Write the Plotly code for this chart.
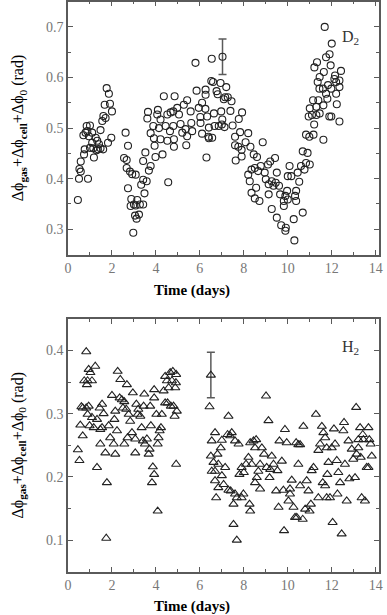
import plotly.graph_objects as go
from plotly.subplots import make_subplots

# ================== Data ==================
# D2 panel : time (days) / phase (rad)
d2_time = [0.45, 0.50, 0.58, 0.52, 0.58, 0.91, 0.73, 0.76, 0.70, 0.80, 0.88, 1.00, 0.85, 0.95, 1.10,
           1.15, 1.18, 1.26, 1.33, 1.41, 1.36, 1.48, 1.56, 1.61, 1.67, 1.76, 1.86, 1.91, 2.00, 1.97,
           1.82, 1.71, 1.10, 1.00, 1.48, 1.30, 1.60,
           2.62, 2.73, 2.55, 2.67, 2.67, 2.82, 2.92, 3.08, 2.73, 2.88, 2.85, 3.00, 3.15, 3.08, 3.27,
           3.42, 3.48, 3.05, 3.23, 3.12, 2.97, 3.42, 3.33, 3.58, 3.42, 3.52, 3.68, 3.76, 3.64, 3.61,
           3.76, 3.88, 3.91, 3.94, 3.98, 4.09, 4.06, 4.21, 4.14, 4.21, 4.30, 4.36, 4.44, 4.52, 4.52,
           4.56, 4.67, 4.64, 4.79, 4.79, 4.82, 4.85, 4.82, 4.97, 5.05, 5.12, 5.20, 5.27, 5.42, 5.35,
           5.42, 5.38, 5.58, 5.61, 5.65,
           5.80, 5.85, 5.95, 6.03, 6.10, 6.10, 6.26, 6.26, 6.30, 6.33, 6.41, 6.41, 6.52, 6.60, 6.56,
           6.64, 6.67, 6.76, 6.86, 6.94, 6.97, 7.02, 7.09, 7.12, 6.54, 6.81, 6.25, 6.02, 6.39, 7.00,
           7.20, 7.15, 7.27, 7.44, 7.39, 7.92, 7.77, 7.49,
           7.60, 7.83, 8.20, 7.60, 7.75, 7.90, 7.63, 8.08, 8.30, 7.90, 8.45, 8.60, 8.86, 8.20, 8.27,
           8.35, 8.50, 8.65, 8.77, 8.35, 8.50, 8.71, 8.56, 8.95, 9.10, 9.20, 9.42, 9.00, 9.13, 9.27,
           9.35, 9.45, 9.60, 9.50, 9.13, 9.27, 9.50, 9.70, 9.91, 9.89, 10.27, 10.30, 10.00, 10.16,
           10.08, 9.65, 9.89, 9.97, 9.82, 10.00, 10.38, 10.38, 10.33, 9.82, 10.68, 10.52, 10.45,
           10.60, 10.68, 10.90, 10.83, 10.76, 11.00, 10.83, 10.98, 11.17,
           10.95, 11.10, 11.00, 11.15, 11.30, 11.45, 11.30, 11.20, 11.39, 11.62, 11.62, 11.21, 11.33,
           11.36, 11.44, 11.64, 11.74, 11.68, 12.00, 11.90, 11.95, 11.45, 11.60, 11.83, 11.98, 11.74,
           12.12, 12.20, 12.35, 12.42, 12.15, 12.35, 12.20, 11.89, 11.98, 12.23, 12.35, 11.80]
d2_phase = [0.358, 0.400, 0.414, 0.419, 0.434, 0.400, 0.448, 0.458, 0.486, 0.491, 0.494, 0.505, 0.504,
            0.484, 0.471, 0.460, 0.442, 0.481, 0.475, 0.468, 0.458, 0.496, 0.514, 0.524, 0.546, 0.579,
            0.568, 0.548, 0.533, 0.481, 0.471, 0.520, 0.491, 0.461, 0.460, 0.456, 0.458,
            0.491, 0.465, 0.441, 0.437, 0.421, 0.414, 0.409, 0.408, 0.381, 0.360, 0.346, 0.349, 0.358,
            0.347, 0.349, 0.349, 0.371, 0.327, 0.329, 0.321, 0.293, 0.398, 0.388, 0.395, 0.435, 0.452,
            0.416, 0.425, 0.532, 0.519,
            0.490, 0.504, 0.480, 0.465, 0.443, 0.536, 0.527, 0.517, 0.500, 0.478, 0.448, 0.563, 0.504,
            0.527, 0.475, 0.393, 0.531, 0.494, 0.533, 0.504, 0.478, 0.563, 0.463, 0.540, 0.527, 0.508,
            0.491, 0.546, 0.555, 0.498, 0.484, 0.466, 0.533, 0.510, 0.494,
            0.629, 0.574, 0.540, 0.510, 0.550, 0.489, 0.576, 0.566, 0.442, 0.523, 0.501, 0.480, 0.593,
            0.591, 0.481, 0.529, 0.504, 0.573, 0.504, 0.589, 0.533, 0.517, 0.557, 0.502, 0.637, 0.567,
            0.538, 0.522, 0.483, 0.507,
            0.581, 0.561, 0.561, 0.553, 0.534, 0.531, 0.518, 0.505,
            0.483, 0.492, 0.490, 0.466, 0.463, 0.457, 0.436, 0.472, 0.463, 0.444, 0.448, 0.443, 0.472,
            0.408, 0.395, 0.418, 0.421, 0.415, 0.425, 0.372, 0.361, 0.356, 0.382, 0.412, 0.428, 0.434,
            0.441, 0.399, 0.389, 0.395, 0.386, 0.392, 0.386, 0.412, 0.369, 0.340, 0.323, 0.308, 0.303,
            0.297, 0.320, 0.278, 0.405, 0.405, 0.425, 0.369, 0.366, 0.376, 0.356, 0.359, 0.376, 0.356,
            0.366, 0.346, 0.333, 0.394, 0.412, 0.425, 0.454, 0.451, 0.431, 0.418, 0.428, 0.487, 0.483,
            0.487,
            0.523, 0.526, 0.539, 0.555, 0.542, 0.529, 0.526, 0.507, 0.555, 0.545, 0.477, 0.620, 0.630,
            0.591, 0.578, 0.611, 0.640, 0.700, 0.667, 0.646, 0.624, 0.601, 0.578, 0.585, 0.578, 0.568,
            0.597, 0.591, 0.594, 0.613, 0.604, 0.581, 0.568, 0.523, 0.523, 0.547, 0.513, 0.558]

# H2 panel : time (days) / phase (rad)
h2_time = [0.45, 0.52, 0.61, 0.56, 0.67, 0.67, 0.83, 0.74, 0.89, 0.86, 0.94, 1.02, 1.09, 0.83, 0.94,
           0.89, 0.98, 1.09, 1.17, 1.24, 1.32, 1.32, 1.44, 1.47, 1.55, 1.47, 1.55, 1.62, 1.70, 1.77,
           1.74, 1.85, 1.92, 2.00, 2.08, 2.15, 2.11, 2.15, 2.23, 2.26, 2.38, 2.35, 2.45, 2.50, 2.56,
           2.68, 2.65, 2.76, 2.83, 2.91, 2.56, 2.71, 2.95, 3.06, 3.06, 3.11, 3.17, 3.29, 3.20, 3.35,
           3.44, 3.47, 3.41, 3.50, 3.59, 3.67, 3.74, 3.71, 3.77, 3.82, 3.86, 3.92, 3.92, 3.92, 4.02,
           4.08, 4.08, 4.12, 4.17, 4.27, 4.23, 4.35, 4.42, 4.50, 4.53, 4.58, 4.65, 4.73, 4.77, 4.80,
           4.88, 4.85, 4.91, 4.92, 4.95, 4.92, 4.68, 4.42,
           6.44, 6.54, 6.69, 6.50, 6.62, 6.80, 6.54, 6.69, 6.84, 6.95, 7.00, 7.00, 7.08, 6.84, 6.69,
           6.74, 7.15, 7.30, 7.26, 7.38, 7.45, 7.30, 7.40, 7.60, 7.76, 7.53, 7.60, 7.68, 7.53, 7.68,
           7.80, 7.90, 7.98, 7.90, 8.00, 8.21, 8.10, 8.26, 8.29, 8.29, 8.36, 8.44, 8.51, 8.56, 8.59,
           8.51, 8.66, 8.74, 8.74, 8.82, 8.92, 9.01, 9.12, 9.04, 9.20, 9.27, 9.17, 9.35, 9.47, 9.53,
           9.58, 9.62, 9.73, 9.80, 9.83, 9.87, 9.95, 10.03, 10.10, 10.18, 10.10, 10.26, 10.33, 10.38,
           10.48, 10.41, 10.56, 10.48, 10.56, 10.71, 10.68, 10.79, 10.86, 10.94, 10.99, 11.05, 11.09,
           11.17, 11.28, 11.39, 11.47, 11.39, 11.55, 11.62, 11.70, 11.77, 11.59, 11.70, 11.77, 11.92,
           11.85, 11.80, 12.00, 12.04, 12.10, 12.15, 12.23, 12.26, 12.30, 12.38, 12.45, 12.53, 12.56,
           12.60, 12.68, 12.76, 12.80, 12.91, 12.98, 13.06, 13.11, 13.13, 13.21, 13.29, 13.32, 13.36,
           13.41, 13.44, 13.51, 13.59, 13.67, 13.71, 13.77, 13.82, 13.67, 13.21]
h2_phase = [0.243, 0.226, 0.311, 0.282, 0.309, 0.265, 0.398, 0.352, 0.352, 0.346, 0.370, 0.365, 0.352,
            0.309, 0.312, 0.299, 0.281, 0.294, 0.278, 0.375, 0.215, 0.291, 0.309, 0.275, 0.315, 0.252,
            0.278, 0.300, 0.238, 0.191, 0.103, 0.281, 0.262, 0.329, 0.252, 0.236, 0.291, 0.304, 0.273,
            0.367, 0.354, 0.325, 0.322, 0.309, 0.319, 0.346, 0.307, 0.299, 0.288, 0.270, 0.252, 0.262,
            0.333, 0.238, 0.260, 0.315, 0.299, 0.296, 0.307, 0.278, 0.312, 0.331, 0.257, 0.252, 0.260,
            0.236, 0.312, 0.244, 0.281, 0.191, 0.216, 0.204, 0.325, 0.338, 0.299, 0.146, 0.252, 0.262,
            0.273, 0.299, 0.278, 0.336, 0.359, 0.352, 0.317, 0.341, 0.365, 0.352, 0.367, 0.312, 0.341,
            0.296, 0.349, 0.362, 0.304, 0.220, 0.312, 0.317,
            0.311, 0.257, 0.270, 0.233, 0.223, 0.236, 0.209, 0.209, 0.220, 0.246, 0.258, 0.202, 0.188,
            0.183, 0.194, 0.167, 0.215, 0.296, 0.267, 0.265, 0.270, 0.179, 0.178, 0.257, 0.252, 0.157,
            0.173, 0.167, 0.125, 0.100, 0.204, 0.167, 0.173, 0.215, 0.207, 0.231, 0.220, 0.157, 0.146,
            0.254, 0.220, 0.257, 0.246, 0.259, 0.199, 0.191, 0.209, 0.181, 0.220, 0.246, 0.236, 0.328,
            0.289, 0.215, 0.212, 0.233, 0.199, 0.220, 0.178, 0.210, 0.152, 0.257, 0.225, 0.179, 0.115,
            0.275, 0.254, 0.162, 0.181, 0.195, 0.173, 0.152, 0.136, 0.254, 0.251, 0.136, 0.251, 0.220,
            0.186, 0.280, 0.133, 0.149, 0.194, 0.178, 0.146, 0.157, 0.210, 0.215, 0.299, 0.242, 0.252,
            0.167, 0.280, 0.270, 0.262, 0.246, 0.191, 0.186, 0.167, 0.167, 0.223, 0.204, 0.246, 0.128,
            0.276, 0.252, 0.226, 0.173, 0.207, 0.191, 0.110, 0.273, 0.286, 0.220, 0.162, 0.257, 0.197,
            0.244, 0.228, 0.199, 0.310, 0.236, 0.246, 0.278, 0.231, 0.167, 0.267, 0.259, 0.162, 0.215,
            0.278, 0.259, 0.252, 0.233, 0.215, 0.259]

# representative error bars
d2_err_time, d2_err_phase, d2_err = [7.03], [0.641], [0.035]
h2_err_time, h2_err_phase, h2_err = [6.50], [0.361], [0.036]

x_ticks = [0, 2, 4, 6, 8, 10, 12, 14]

# ================== Figure ==================
serif = "Liberation Serif"
axis_gray = "#5a5a5a"
mark_col = "#222222"

fig = make_subplots(rows=2, cols=1, vertical_spacing=0.1)
fig.add_trace(go.Scatter(x=d2_time, y=d2_phase, mode="markers",
                         marker=dict(symbol="circle-open", size=7, color=mark_col, line=dict(width=1.1))),
              row=1, col=1)
fig.add_trace(go.Scatter(x=d2_err_time, y=d2_err_phase, mode="markers",
                         marker=dict(symbol="circle-open", size=7, color=mark_col, line=dict(width=1.1)),
                         error_y=dict(type="data", array=d2_err, color=axis_gray, thickness=1.5, width=4)),
              row=1, col=1)
fig.add_trace(go.Scatter(x=h2_time, y=h2_phase, mode="markers",
                         marker=dict(symbol="triangle-up-open", size=8, color=mark_col, line=dict(width=1.1))),
              row=2, col=1)
fig.add_trace(go.Scatter(x=h2_err_time, y=h2_err_phase, mode="markers",
                         marker=dict(symbol="triangle-up-open", size=8, color=mark_col, line=dict(width=1.1)),
                         error_y=dict(type="data", array=h2_err, color=axis_gray, thickness=1.5, width=4)),
              row=2, col=1)

common = dict(showline=True, linecolor=axis_gray, linewidth=1.5, mirror="allticks",
              ticks="inside", ticklen=5, tickwidth=1, tickcolor=axis_gray,
              showgrid=False, zeroline=False, automargin=False,
              tickfont=dict(family=serif, size=14, color="#777777"))

fig.update_xaxes(range=[0, 14.15], tickvals=x_ticks,
                 minor=dict(dtick=1, ticks="inside", ticklen=3, tickcolor=axis_gray),
                 **common)
fig.update_yaxes(range=[0.25, 0.75], dtick=0.1, tickformat=".1f",
                 minor=dict(dtick=0.05, ticks="inside", ticklen=3, tickcolor=axis_gray),
                 row=1, col=1, **common)
fig.update_yaxes(range=[0.05, 0.45], dtick=0.1, tickformat=".1f",
                 minor=dict(dtick=0.05, ticks="inside", ticklen=3, tickcolor=axis_gray),
                 row=2, col=1, **common)

fig.update_layout(
    width=387, height=615, showlegend=False,
    plot_bgcolor="white", paper_bgcolor="white",
    margin=dict(l=68, r=8, t=1, b=0, autoexpand=False),
    xaxis=dict(domain=[0, 1]), xaxis2=dict(domain=[0, 1]),
    yaxis=dict(domain=[0.587, 0.999]), yaxis2=dict(domain=[0.0704, 0.4824]),
)

# axis titles as annotations (placed to match the reference)
ytitle = "Δϕ<sub><b>gas</b></sub>+Δϕ<sub><b>cell</b></sub>+Δϕ<sub>0</sub> (rad)"
for yc in [0.793, 0.2764]:
    fig.add_annotation(text=ytitle, xref="paper", yref="paper", x=-0.16, y=yc,
                       textangle=-90, showarrow=False, xanchor="center", yanchor="middle",
                       font=dict(family=serif, size=16, color="black"))
for yc in [(615 - 290) / 615, (615 - 606) / 615]:
    fig.add_annotation(text="<b>Time (days)</b>", xref="paper", yref="paper", x=0.4, y=yc,
                       showarrow=False, xanchor="center", yanchor="middle",
                       font=dict(family=serif, size=15, color="black"))

fig.add_annotation(text="D<sub>2</sub>", xref="x", yref="y", x=12.85, y=0.68, showarrow=False,
                   font=dict(family=serif, size=16, color="#333333"))
fig.add_annotation(text="H<sub>2</sub>", xref="x2", yref="y2", x=12.85, y=0.405, showarrow=False,
                   font=dict(family=serif, size=16, color="#333333"))

# drop the browser's default body margin so the figure sits at the page corner
fig.write_html("out.html", config={"displayModeBar": False},
               post_script="document.body.style.margin='0';")
